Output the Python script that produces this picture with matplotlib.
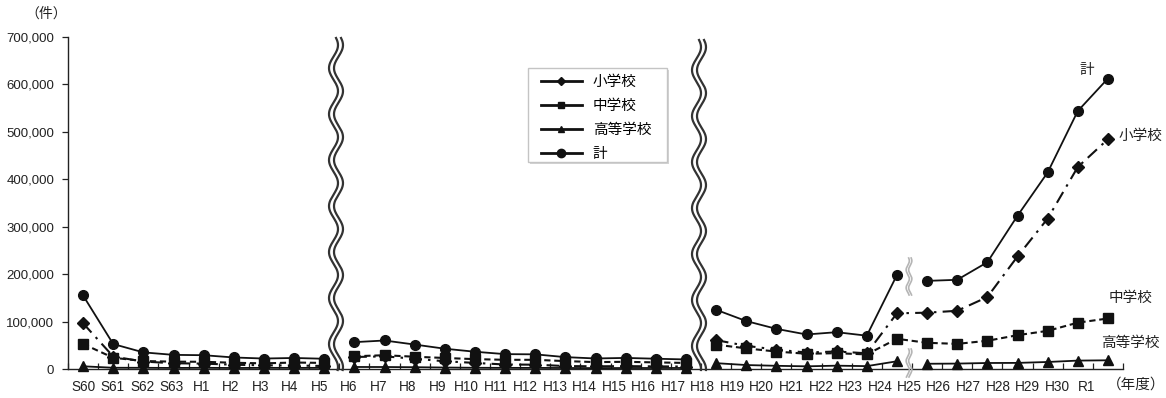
import numpy as np
import matplotlib
matplotlib.use("Agg")
import matplotlib.pyplot as plt
from matplotlib.lines import Line2D
from matplotlib.patches import Rectangle

plt.rcParams["font.family"] = ["Liberation Sans", "Noto Sans CJK JP"]

# data (いじめの認知件数)
years = ["S60", "S61", "S62", "S63", "H1", "H2", "H3", "H4", "H5",
         "H6", "H7", "H8", "H9", "H10", "H11", "H12", "H13", "H14", "H15", "H16", "H17",
         "H18", "H19", "H20", "H21", "H22", "H23", "H24", "H25", "H26", "H27", "H28",
         "H29", "H30", "R1"]
elem = [96457, 26306, 15727, 12122, 11350, 9035, 7718, 7300, 6390,
        25295, 26614, 21733, 16294, 12858, 9462, 9114, 6206, 5659, 6051, 5551, 5087,
        60897, 48896, 40807, 34766, 36909, 33124, 117384, 118748, 122734, 151692,
        237256, 317121, 425844, 484545]
junior = [52891, 23690, 16796, 15452, 15215, 13121, 11922, 13632, 12817,
          26828, 29069, 25862, 23234, 20801, 19383, 19371, 16635, 14562, 15159, 13915, 12794,
          51310, 43505, 36795, 32111, 33323, 30749, 63634, 55248, 52971, 59502,
          71309, 80424, 97704, 106524]
high = [5718, 2614, 2544, 2212, 2523, 2152, 2422, 2326, 2391,
        4253, 4184, 3771, 3103, 2576, 2391, 2327, 2119, 1906, 2070, 2121, 2191,
        12307, 8355, 6737, 5642, 7018, 6020, 16274, 11039, 11404, 12664,
        12874, 14789, 17709, 18352]
total = [155066, 52610, 35067, 29786, 29088, 24308, 22062, 23258, 21598,
         56601, 60096, 51544, 42790, 36396, 31359, 30918, 25037, 22205, 23351, 21671, 20143,
         124898, 101097, 84648, 72778, 77630, 70231, 198109, 185803, 188072, 225132,
         323143, 414378, 543933, 612496]
series_names = ["小学校", "中学校", "高等学校", "計"]

W, H = 1166, 398
fig = plt.figure(figsize=(W / 100, H / 100), dpi=100)
ax = fig.add_axes([68 / W, 1 - 369 / H, 1055 / W, 332 / H])

ink = "#111111"
txt = "#222222"
segs_a = [(0, 9), (9, 21), (21, 35)]
segs_b = [(0, 9), (9, 21), (21, 28), (28, 35)]


def draw(vals, segs, **kw):
    x = np.arange(len(vals))
    v = np.array(vals, dtype=float)
    for a, b in segs:
        ax.plot(x[a:b], v[a:b], color=ink, clip_on=False, **kw)


draw(total, segs_b, lw=1.3, marker="o", ms=7, zorder=5)
draw(elem, segs_a, lw=1.5, ls=(0, (6, 3, 1.2, 3)), marker="D", ms=6, zorder=4)
draw(junior, segs_a, lw=1.5, ls=(0, (3, 1.8)), marker="s", ms=6.5, zorder=4)
draw(high, segs_b, lw=1.3, marker="^", ms=7, zorder=4)

ax.set_xlim(-0.5, 34.5)
ax.set_ylim(0, 700000)
ax.set_yticks(np.arange(0, 700001, 100000))
ax.yaxis.set_major_formatter(matplotlib.ticker.FuncFormatter(lambda v, p: f"{int(v):,}"))
ax.set_xticks(np.arange(len(years)) * 0.979)
ax.set_xticklabels(years)
ax.set_xticks(np.arange(-0.5, 34.6, 1), minor=True)
ax.tick_params(axis="x", which="major", length=0, pad=8, labelsize=9.8, colors=txt)
ax.tick_params(axis="x", which="minor", direction="in", length=4, width=0.9, color=txt)
ax.tick_params(axis="y", direction="out", length=4, width=0.9, pad=6, labelsize=9.5, colors=txt)
for s in ["top", "right"]:
    ax.spines[s].set_visible(False)
for s in ["left", "bottom"]:
    ax.spines[s].set_color(txt)
    ax.spines[s].set_linewidth(1.0)


def pf(x, y):
    return x / W, 1 - y / H


def wave(xc, y0, y1, amp, period, gap, color, lw):
    yy = np.linspace(y0, y1, 400)
    for off in (-gap / 2, gap / 2):
        xx = xc + off + amp * np.sin(2 * np.pi * (yy - y0) / period + 0.6)
        fx, fy = pf(xx, yy)
        fig.add_artist(Line2D(fx, fy, color=color, lw=lw, transform=fig.transFigure, zorder=10))


wave(336, 38, 370, 4.5, 46, 5, "#333333", 1.6)
wave(699, 40, 370, 4.5, 46, 5, "#333333", 1.6)
wave(909, 258, 295, 1.6, 18, 2.5, "#b5b5b5", 1.2)
wave(909, 349, 377, 1.6, 18, 2.5, "#b5b5b5", 1.2)

# legend box (drawn by hand for the padding)
x0, y0 = pf(528, 162)
fig.add_artist(Rectangle((x0 + 2 / W, y0 - 2 / H), 139 / W, 94 / H, transform=fig.transFigure,
                         facecolor="#d4d4d4", edgecolor="none", zorder=6))
fig.add_artist(Rectangle((x0, y0), 139 / W, 94 / H, transform=fig.transFigure,
                         facecolor="white", edgecolor="#c4c4c4", lw=1.0, zorder=7))
handles = [
    Line2D([], [], color=ink, lw=2, marker="D", ms=4),
    Line2D([], [], color=ink, lw=2, marker="s", ms=5),
    Line2D([], [], color=ink, lw=2, marker="^", ms=5),
    Line2D([], [], color=ink, lw=2, marker="o", ms=6),
]
leg = fig.legend(handles, series_names, loc="upper left", bbox_to_anchor=pf(541, 75),
                 borderaxespad=0, borderpad=0, fontsize=10.5, handlelength=2.8,
                 handletextpad=0.75, labelspacing=0.68, frameon=False)
leg.set_zorder(8)

fig.text(*pf(46, 14), "（件）", ha="center", va="center", fontsize=10, color=txt)
fig.text(*pf(1136, 385), "（年度）", ha="center", va="center", fontsize=10.5, color=txt)
fig.text(*pf(1087, 70), "計", ha="center", va="center", fontsize=10.5, color=txt)
fig.text(*pf(1140, 136), "小学校", ha="center", va="center", fontsize=10.5, color=txt)
fig.text(*pf(1131, 298), "中学校", ha="center", va="center", fontsize=10.5, color=txt)
fig.text(*pf(1130, 343), "高等学校", ha="center", va="center", fontsize=10.5, color=txt)

fig.savefig("out.png", dpi=100)
